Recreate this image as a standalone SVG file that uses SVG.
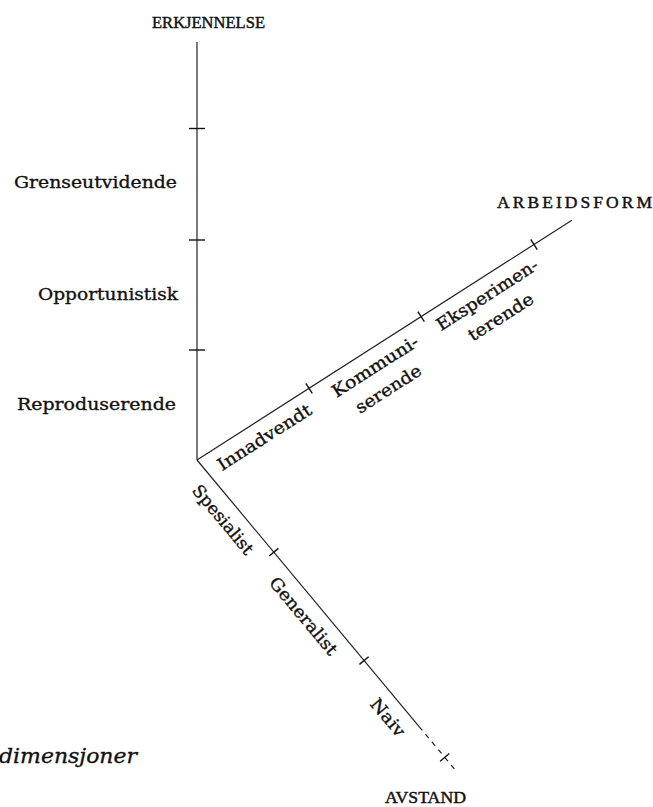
<svg xmlns="http://www.w3.org/2000/svg" width="653" height="807" viewBox="0 0 653 807">
<style>
  .ax { stroke:#222; stroke-width:1.2; fill:none; }
  .tk { stroke:#111; stroke-width:1.4; }
  text { fill:#111; stroke:#111; stroke-width:0.35; font-family:"DejaVu Serif","Liberation Serif",serif; }
  .lbl { font-size:17px; }
  .cap { font-size:17.5px; font-family:"Liberation Serif","Times New Roman",serif; stroke-width:0.45; }
  .it { font-size:21px; font-style:italic; }
</style>
<rect width="653" height="807" fill="#fff"/>
<g id="connectors">
  <line class="ax" x1="197" y1="42" x2="197" y2="460"/>
  <g transform="translate(197,460) rotate(-32.6)">
    <line class="ax" x1="0" y1="0" x2="445" y2="0"/>
  </g>
  <g transform="translate(197,460) rotate(50.2)">
    <line class="ax" x1="0" y1="0" x2="347" y2="0"/>
    <line class="ax" x1="347" y1="0" x2="407" y2="0" stroke-dasharray="5,5"/>
  </g>
</g>
<g id="ticks">
  <line class="tk" x1="189" y1="128.5" x2="205" y2="128.5"/>
  <line class="tk" x1="189" y1="240" x2="205" y2="240"/>
  <line class="tk" x1="189" y1="350" x2="205" y2="350"/>
  <g transform="translate(197,460) rotate(-32.6)">
    <line class="tk" x1="133" y1="-6" x2="133" y2="6"/>
    <line class="tk" x1="266" y1="-6" x2="266" y2="6"/>
    <line class="tk" x1="400" y1="-6" x2="400" y2="6"/>
  </g>
  <g transform="translate(197,460) rotate(50.2)">
    <line class="tk" x1="120" y1="-6" x2="120" y2="6"/>
    <line class="tk" x1="261" y1="-6" x2="261" y2="6"/>
    <line class="tk" x1="387" y1="-6" x2="387" y2="6"/>
  </g>
</g>
<g id="erkjennelse">
  <text class="cap" x="152" y="28" textLength="113" lengthAdjust="spacingAndGlyphs">ERKJENNELSE</text>
  <text class="lbl" x="14" y="188" textLength="163" lengthAdjust="spacingAndGlyphs">Grenseutvidende</text>
  <text class="lbl" x="38" y="300" textLength="140" lengthAdjust="spacingAndGlyphs">Opportunistisk</text>
  <text class="lbl" x="17" y="410" textLength="159" lengthAdjust="spacingAndGlyphs">Reproduserende</text>
</g>
<g id="arbeidsform">
  <text class="cap" x="497" y="208" textLength="155" lengthAdjust="spacing">ARBEIDSFORM</text>
  <g transform="translate(197,460) rotate(-32.6)">
    <text class="lbl" x="15" y="23" textLength="108" lengthAdjust="spacingAndGlyphs">Innadvendt</text>
    <text class="lbl" x="151" y="23" textLength="99" lengthAdjust="spacingAndGlyphs">Kommuni-</text>
    <text class="lbl" x="162" y="49" textLength="75" lengthAdjust="spacingAndGlyphs">serende</text>
    <text class="lbl" x="275" y="23" textLength="117" lengthAdjust="spacingAndGlyphs">Eksperimen-</text>
    <text class="lbl" x="296" y="49" textLength="74" lengthAdjust="spacingAndGlyphs">terende</text>
  </g>
</g>
<g id="avstand">
  <text class="cap" x="385" y="803" textLength="81" lengthAdjust="spacingAndGlyphs">AVSTAND</text>
  <g transform="translate(197,460) rotate(50.2)">
    <text class="lbl" x="20" y="24" textLength="85" lengthAdjust="spacingAndGlyphs">Spesialist</text>
    <text class="lbl" x="140" y="24" textLength="96" lengthAdjust="spacingAndGlyphs">Generalist</text>
    <text class="lbl" x="298" y="24" textLength="44" lengthAdjust="spacingAndGlyphs">Naiv</text>
  </g>
</g>
<g id="caption">
  <text class="it" x="-1" y="763" textLength="138" lengthAdjust="spacingAndGlyphs">dimensjoner</text>
</g>
</svg>
